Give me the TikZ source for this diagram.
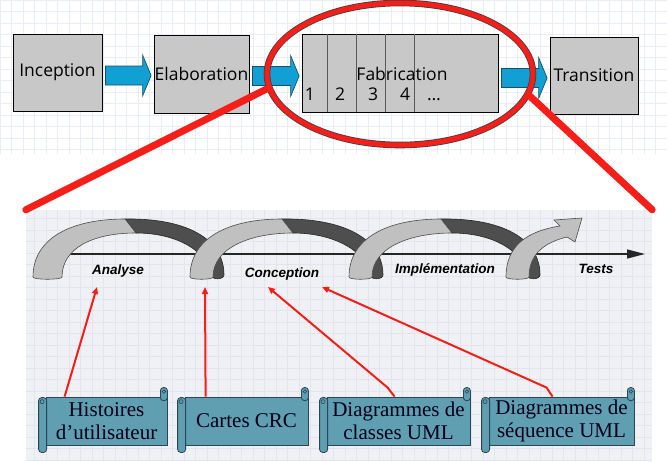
\documentclass[tikz,border=0pt]{standalone}
\usepackage{fontspec}
\setmainfont{Liberation Serif}
\newfontfamily\phasefont{Open Sans}
\newfontfamily\stepfont{Liberation Sans}
\usetikzlibrary{arrows.meta, calc, shapes.geometric}

\definecolor{phasegrey}{RGB}{200,200,200}
\definecolor{flowblue}{RGB}{18,160,212}
\definecolor{flowedge}{RGB}{25,80,105}
\definecolor{gridline}{RGB}{234,238,244}
\definecolor{panelgrid}{RGB}{226,230,236}
\definecolor{panelbg}{RGB}{240,241,244}
\definecolor{scrollfill}{RGB}{96,158,178}
\definecolor{scrolledge}{RGB}{40,70,85}
\definecolor{ribbonlight}{RGB}{192,192,192}
\definecolor{ribbondark}{RGB}{78,78,78}
\definecolor{zoomred}{RGB}{245,30,25}

\tikzset{
  phase/.style={draw=black, line width=0.8pt, fill=phasegrey, inner sep=0pt,
    font=\phasefont\fontsize{17.5}{20}\selectfont},
  flow/.style={draw=flowedge, line width=0.7pt, fill=flowblue},
  scrollbox/.style={draw=scrolledge, line width=0.8pt, fill=scrollfill, inner sep=0pt,
    minimum height=48pt, align=center, text=black!90!blue,
    font=\fontsize{21}{23.5}\selectfont},
  scrollroll/.style={draw=scrolledge, line width=0.8pt, fill=scrollfill, rounded corners=3pt},
  steplabel/.style={font=\stepfont\bfseries\itshape\fontsize{13.5}{15}\selectfont,
    anchor=base, inner sep=0pt},
  hint/.style={draw=zoomred, line width=2pt, -{Triangle[length=7pt,width=6pt]}},
  zoomline/.style={draw=zoomred, line width=7pt, line cap=round},
  lightribbon/.style={draw=black!70, line width=0.6pt, fill=ribbonlight},
  darkribbon/.style={draw=black!85, line width=0.6pt, fill=ribbondark},
}

\begin{document}
\begin{tikzpicture}[x=1pt, y=-1pt]
  \useasboundingbox (0,0) rectangle (667,461);
  % backgrounds
  \fill[white] (0,0) rectangle (667,461);
  \draw[gridline, line width=0.5pt, step=11.5pt] (0,154) grid (667,0);
  \node[fill=panelbg, inner sep=0pt, minimum width=626pt, minimum height=251pt] (detail) at (339,335.5) {};
  \draw[panelgrid, line width=0.5pt, step=11.5pt] (26,461) grid (652,210);

  % phases
  \node[phase, minimum width=89pt, minimum height=77pt] (inc) at (57.5,72.5) {Inception};
  \node[phase, minimum width=95pt, minimum height=78pt] (elab) at (201.5,74) {Elaboration};
  \node[phase, minimum width=196pt, minimum height=78pt] (fab) at (400,73) {};
  \node[phase, minimum width=88pt, minimum height=77pt] (trans) at (594,75.5) {Transition};
  \foreach \d in {26,55,84,113}
    \draw[black!65, line width=1.2pt] ($(fab.north west)+(\d,0)$) -- ($(fab.south west)+(\d,0)$);
  \node[font=\phasefont\fontsize{17.5}{20}\selectfont, inner sep=0pt] (fabtext) at (402,74) {Fabrication};
  \foreach \t/\x [count=\i] in {1/310,2/340,3/373,4/405,{\ldots}/434}
    \node[font=\phasefont\fontsize{17.5}{20}\selectfont, inner sep=0pt, anchor=base] (iter\i) at (\x,100) {\t};

  \foreach \a/\b/\d in {inc/elab/3,elab/fab/2,fab/trans/5} {
    \coordinate (s) at ($(\a.east)+(0,\d)$);
    \coordinate (t) at (s -| \b.west);
    \draw[flow] ($(s)+(3,-9.5)$) -- ($(t)+(-11,-9.5)$) -- ($(t)+(-11,-20.5)$) -- ($(t)+(-2.5,0)$)
      -- ($(t)+(-11,20.5)$) -- ($(t)+(-11,9.5)$) -- ($(s)+(3,9.5)$) -- cycle;
  }

  % zoom ring
  \node[ellipse, draw=black!75, line width=0.8pt, double=zoomred, double distance=5pt,
    minimum width=266pt, minimum height=142pt, inner sep=0pt] (ring) at (400,74) {};
  \draw[zoomline] (ring.186) -- (detail.north west);
  \draw[zoomline] (ring.-9) -- (detail.north east);

  % iterations
  \coordinate (axis0) at (62,254);
  \coordinate (axis1) at (645,254);
  \draw[line width=1.3pt, black!85, -{Triangle[length=18pt,width=9pt]}] (axis0) -- (axis1);
  \foreach \s/\n in {33/190,190/349,349/506}
    \draw[darkribbon] (\s+92,219) .. controls (\s+152,218) and (\n+34,238) .. (\n+34,275)
      .. controls (\n+34,280) and (\n+21,280) .. (\n+21,275)
      .. controls (\n+18,252) and (\s+145,233) .. (\s+103,233) -- cycle;
  \foreach \s/\w in {33/29,190/23,349/23}
    \draw[lightribbon] (\s,277) .. controls (\s,237) and (\s+40,219) .. (\s+92,219) -- (\s+103,233)
      .. controls (\s+60,233) and (\s+\w,248) .. (\s+\w,277)
      .. controls (\s+\w,280) and (\s,280) .. (\s,277) -- cycle;
  \draw[lightribbon] (506,277) .. controls (506,245) and (528,231) .. (560,226) -- (554,220)
    -- (582,218) -- (575,242) -- (567,237) .. controls (546,242) and (529,253) .. (529,277)
    .. controls (529,280) and (506,280) .. (506,277) -- cycle;

  \node[steplabel] (lana) at (118,274) {Analyse};
  \node[steplabel] (lcon) at (282,277) {Conception};
  \node[steplabel] (limp) at (445,273) {Implémentation};
  \node[steplabel] (ltest) at (596,273) {Tests};

  % artefacts
  \node[scrollbox, minimum width=121pt] (hist) at (106.5,421) {Histoires\\d’utilisateur};
  \node[scrollbox, minimum width=123pt] (crc) at (246.5,421) {Cartes CRC};
  \node[scrollbox, minimum width=143pt] (cls) at (398.5,421) {Diagrammes de\\classes UML};
  \node[scrollbox, minimum width=145pt] (seq) at (561.5,421) {Diagrammes de\\séquence UML};
  \foreach \b in {hist,crc,cls,seq} {
    \draw[scrollroll] ($(\b.north west)+(-7,1)$) rectangle ($(\b.south west)+(1,7)$);
    \draw[scrollroll] ($(\b.north east)+(-7,-9)$) rectangle ($(\b.north east)+(0,4)$);
    \draw[scrolledge, line width=0.6pt] ($(\b.north west)+(-3.5,5)$) circle (2pt);
    \draw[scrolledge, line width=0.6pt] ($(\b.north east)+(-3.5,-5)$) circle (1.8pt);
  }

  \coordinate (tipA) at (97,287);
  \coordinate (tipB) at (205,287);
  \coordinate (tipC) at (268,287);
  \coordinate (tipD) at (322,287);
  \draw[hint] ($(hist.north west)+(19,0)$) -- (tipA);
  \draw[hint] ($(crc.north west)+(21,0)$) -- (tipB);
  \draw[hint] ($(cls.north west)+(68,0)$) -- ++(-7,-9) -- (tipC);
  \draw[hint] ($(seq.north west)+(64,0)$) -- ++(-6,-9) -- (tipD);
\end{tikzpicture}
\end{document}
